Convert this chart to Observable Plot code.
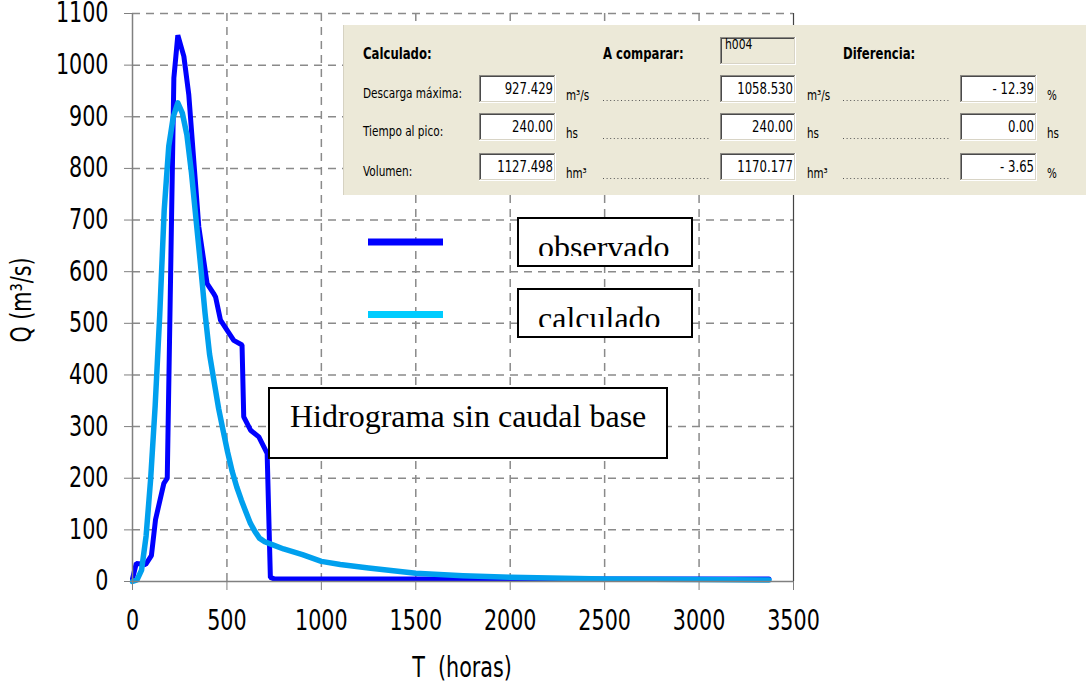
<!DOCTYPE html>
<html><head><meta charset="utf-8">
<script src="https://cdn.jsdelivr.net/npm/d3@7"></script>
<script src="https://cdn.jsdelivr.net/npm/@observablehq/plot@0.6"></script>
<style>
body{margin:0;background:#fff;}
#wrap{width:1086px;height:685px;overflow:hidden;}
</style></head><body><div id="wrap"></div>
<script>
// ---- data ----
const obsT = [0, 20, 70, 100, 122, 166, 184, 219, 240, 272, 298, 351, 395, 429, 440, 466, 536, 580, 589, 625, 669, 713, 730, 750, 3370];
const obsQ = [5, 35, 33, 50, 120, 190, 200, 975, 1058, 1017, 943, 687, 577, 558, 551, 506, 467, 458, 319, 293, 280, 248, 8, 5, 5];
const calT = [0, 24, 48, 72, 96, 120, 144, 168, 192, 216, 240, 264, 288, 312, 336, 360, 384, 408, 432, 456, 480, 504, 528, 552, 576, 600, 624, 648, 672, 700, 750, 800, 900, 1000, 1100, 1250, 1500, 1750, 2000, 2500, 3000, 3370];
const calQ = [0, 3, 22, 88, 198, 340, 515, 720, 843, 900, 927, 907, 865, 792, 703, 614, 520, 440, 387, 335, 292, 250, 213, 183, 158, 135, 113, 97, 84, 77, 70, 63, 52, 39, 33, 26, 16, 11, 8, 5, 4, 3];
const xTicks = [0, 500, 1000, 1500, 2000, 2500, 3000, 3500];
const yTicks = [0, 100, 200, 300, 400, 500, 600, 700, 800, 900, 1000, 1100];
const seriesNames = ["observado", "calculado"];
const xLabel = "T  (horas)";
const yLabel = "Q (m³/s)";
const annotation = "Hidrograma sin caudal base";
// comparison panel
const headers = ["Calculado:", "A comparar:", "Diferencia:"];
const compareId = "h004";
const rowLabels = ["Descarga máxima:", "Tiempo al pico:", "Volumen:"];
const calcVals = ["927.429", "240.00", "1127.498"];
const compVals = ["1058.530", "240.00", "1170.177"];
const diffVals = ["- 12.39", "0.00", "- 3.65"];
const units = ["m³/s", "hs", "hm³"];
const diffUnits = ["%", "hs", "%"];

const obs = obsT.map((t, i) => ({t, q: obsQ[i]}));
const cal = calT.map((t, i) => ({t, q: calQ[i]}));

const sans = '"DejaVu Sans Condensed","DejaVu Sans",sans-serif';
const serif = '"Liberation Serif","Times New Roman",serif';
const grid = {stroke: "#8a8a8a", strokeOpacity: 1, strokeWidth: 1.5, strokeDasharray: "8,6"};

const chart = Plot.plot({
  width: 1086, height: 685,
  marginLeft: 132, marginRight: 293, marginTop: 13, marginBottom: 104,
  style: {fontFamily: sans, fontSize: "23px", color: "#000", background: "#fff", overflow: "visible"},
  x: {domain: [0, 3500]},
  y: {domain: [0, 1100]},
  marks: [
    Plot.gridX(xTicks.filter(d => d > 0 && d < 3500), grid),
    Plot.gridY(yTicks.filter(d => d > 0), grid),
    Plot.ruleX([3500], {stroke: "#444", strokeWidth: 1.2}),
    Plot.line(obs, {x: "t", y: "q", stroke: "#0000ff", strokeWidth: 5, strokeLinejoin: "miter"}),
    Plot.line(cal, {x: "t", y: "q", stroke: "#00a0ee", strokeWidth: 5.5}),
    Plot.ruleY([0], {stroke: "#808080", strokeWidth: 1.5}),
    Plot.ruleX([0], {stroke: "#808080", strokeWidth: 1.5}),
    Plot.axisX(xTicks, {tickSize: 9, tickPadding: 22, stroke: "#808080", fill: "#000", fontSize: 23, tickFormat: d => String(d), label: null}),
    Plot.axisY(yTicks, {tickSize: 8, tickPadding: 16, stroke: "#808080", fill: "#000", fontSize: 23, tickFormat: d => String(d), label: null})
  ]
});
document.getElementById("wrap").appendChild(chart);

const svg = d3.select(chart);
// stretch tick labels vertically about their own centre (keeps positions)
function stretch(sel, sy) {
  sel.each(function() {
    const b = this.getBBox();
    const cy = b.y + b.height / 2;
    const T = this.getAttribute("transform") || "";
    this.setAttribute("transform", `${T} translate(0,${cy}) scale(1,${sy}) translate(0,${-cy})`);
  });
}
stretch(svg.selectAll('g[aria-label="x-axis tick label"] text'), 1.2);
stretch(svg.selectAll('g[aria-label="y-axis tick label"] text'), 1.2);

const g = svg.append("g");
function txt(x, y, s, o = {}, parent = g) {
  return parent.append("text").text(s)
    .attr("font-family", o.family || sans).attr("font-size", o.size || 12)
    .attr("font-weight", o.weight || "normal").attr("fill", o.fill || "#000")
    .attr("text-anchor", o.anchor || "start")
    .attr("transform", `translate(${x},${y})${o.rotate ? ` rotate(${o.rotate})` : ""} scale(1,${o.sy || 1})`);
}
// axis titles
txt(462, 677, xLabel, {size: 23, anchor: "middle", sy: 1.2}).style("white-space", "pre");
txt(31, 300, yLabel, {size: 23, anchor: "middle", rotate: -90, sy: 1.2});

// legend
const legendY = [242, 314.5];
const legendColors = ["#0000ff", "#00ccff"];
const boxTops = [218, 289];
seriesNames.forEach((name, i) => {
  g.append("line").attr("x1", 368).attr("x2", 443).attr("y1", legendY[i]).attr("y2", legendY[i])
    .attr("stroke", legendColors[i]).attr("stroke-width", 7);
  g.append("rect").attr("x", 518).attr("y", boxTops[i]).attr("width", 174).attr("height", 48)
    .attr("fill", "#fff").attr("stroke", "#000").attr("stroke-width", 2);
  const cid = "clipLeg" + i;
  svg.append("clipPath").attr("id", cid).append("rect")
    .attr("x", 519).attr("y", boxTops[i] + 1).attr("width", 172).attr("height", 37);
  const cg = g.append("g").attr("clip-path", `url(#${cid})`);
  txt(538, boxTops[i] + 40, name, {family: serif, size: 32}, cg);
});
// annotation box
g.append("rect").attr("x", 269).attr("y", 388).attr("width", 398).attr("height", 70)
  .attr("fill", "#fff").attr("stroke", "#000").attr("stroke-width", 2);
txt(290, 427, annotation, {family: serif, size: 32});

// comparison panel
g.append("rect").attr("x", 343).attr("y", 25).attr("width", 743).attr("height", 170).attr("fill", "#ece9d8");
g.append("line").attr("x1", 343.5).attr("x2", 343.5).attr("y1", 25).attr("y2", 195).attr("stroke", "#d6d2c2");
function sunken(x, y, w, h, fill) {
  g.append("rect").attr("x", x).attr("y", y).attr("width", w).attr("height", h).attr("fill", fill);
  const L = (x1, y1, x2, y2, c) => g.append("line").attr("x1", x1).attr("y1", y1).attr("x2", x2).attr("y2", y2).attr("stroke", c).attr("stroke-width", 1);
  L(x, y + 0.5, x + w, y + 0.5, "#8c8a84");
  L(x + 1, y + 1.5, x + w - 1, y + 1.5, "#4a4a4a");
  L(x + 0.5, y, x + 0.5, y + h, "#8c8a84");
  L(x + 1.5, y + 1, x + 1.5, y + h - 1, "#4a4a4a");
  L(x, y + h - 0.5, x + w, y + h - 0.5, "#ffffff");
  L(x + w - 0.5, y, x + w - 0.5, y + h, "#ffffff");
  L(x + 1, y + h - 1.5, x + w - 1, y + h - 1.5, "#d8d4c6");
  L(x + w - 1.5, y + 1, x + w - 1.5, y + h - 1, "#d8d4c6");
}
const headX = [363, 603, 843];
headers.forEach((h, i) => txt(headX[i], 59, h, {size: 13, weight: "bold", sy: 1.2}));
sunken(720, 37, 76, 28, "#ece9d8");
txt(725, 49, compareId, {size: 12, sy: 1.15});

const rowTop = [75, 113, 153];
const boxX = [479, 720, 960];
const boxW = [77, 76, 77];
const dotsX = [[603, 710], [843, 950]];
rowLabels.forEach((lab, r) => {
  const y0 = rowTop[r];
  txt(363, y0 + 23, lab, {size: 11.7, sy: 1.25});
  [calcVals[r], compVals[r], diffVals[r]].forEach((v, c) => {
    sunken(boxX[c], y0, boxW[c], 28, "#fff");
    txt(boxX[c] + boxW[c] - 3, y0 + 19, v, {size: 13, anchor: "end", sy: 1.25});
  });
  txt(566, y0 + 25, units[r], {size: 11.5, sy: 1.2});
  txt(807, y0 + 25, units[r], {size: 11.5, sy: 1.2});
  txt(1047, y0 + 25, diffUnits[r], {size: 11.5, sy: 1.2});
  dotsX.forEach(([a, b]) => {
    g.append("line").attr("x1", a).attr("x2", b).attr("y1", y0 + 25.5).attr("y2", y0 + 25.5)
      .attr("stroke", "#555").attr("stroke-width", 1).attr("stroke-dasharray", "1,2.6");
  });
});
</script>
</body></html>
